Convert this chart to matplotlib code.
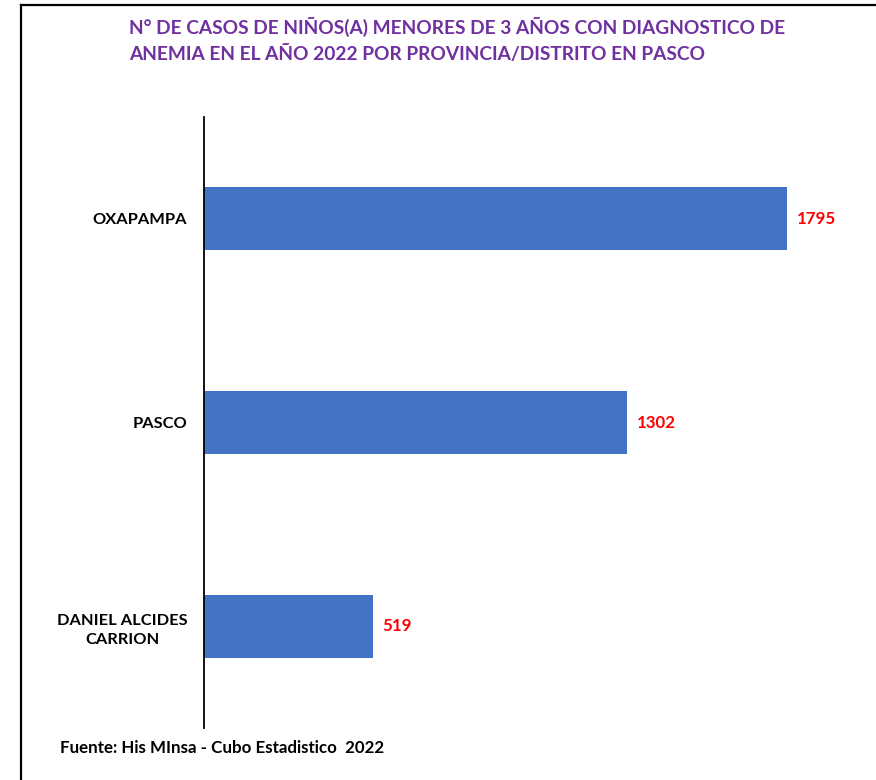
import matplotlib.pyplot as plt
from matplotlib.lines import Line2D

provincias = ['DANIEL ALCIDES\nCARRION', 'PASCO', 'OXAPAMPA']
casos = [519, 1302, 1795]

plt.rcParams['font.family'] = ['Lato', 'DejaVu Sans']

fig = plt.figure(figsize=(8.76, 7.80), dpi=100)
ax = fig.add_axes([204/876, 1 - 728/780, (860 - 204)/876, (728 - 117)/780])

pos = range(len(provincias))
ax.barh(pos, casos, height=0.31, color='#4472C4')
ax.set_xlim(0, 2020)
ax.set_ylim(-0.5, 2.5)
ax.set_yticks(list(pos))
ax.set_yticklabels(provincias, fontsize=11.8, fontweight='bold',
                   multialignment='center', linespacing=1.5)
ax.tick_params(axis='y', length=0, pad=12)
ax.set_xticks([])
for s in ['top', 'right', 'bottom']:
    ax.spines[s].set_visible(False)
ax.spines['left'].set_linewidth(1.3)

for p, v in zip(pos, casos):
    ax.text(v + 30, p, str(v), va='center', ha='left', color='#FF0000',
            fontsize=12.2, fontweight='bold')

fig.text(129/876, 1 - 17/780,
         'N° DE CASOS DE NIÑOS(A) MENORES DE 3 AÑOS CON DIAGNOSTICO DE\n'
         'ANEMIA EN EL AÑO 2022 POR PROVINCIA/DISTRITO EN PASCO',
         ha='left', va='top', color='#7030A0', fontsize=13.8,
         fontweight='bold', linespacing=1.55)
fig.text(60/876, 1 - 748/780, 'Fuente: His MInsa - Cubo Estadistico  2022',
         ha='left', va='center', fontsize=12.2, fontweight='bold')

# marco exterior
fig.add_artist(Line2D([21/876, 21/876], [0, 1 - 5/780], color='black',
                      lw=1.6, transform=fig.transFigure))
fig.add_artist(Line2D([21/876, 1], [1 - 5/780, 1 - 5/780], color='black',
                      lw=1.6, transform=fig.transFigure))

fig.savefig('out.png', dpi=100)
